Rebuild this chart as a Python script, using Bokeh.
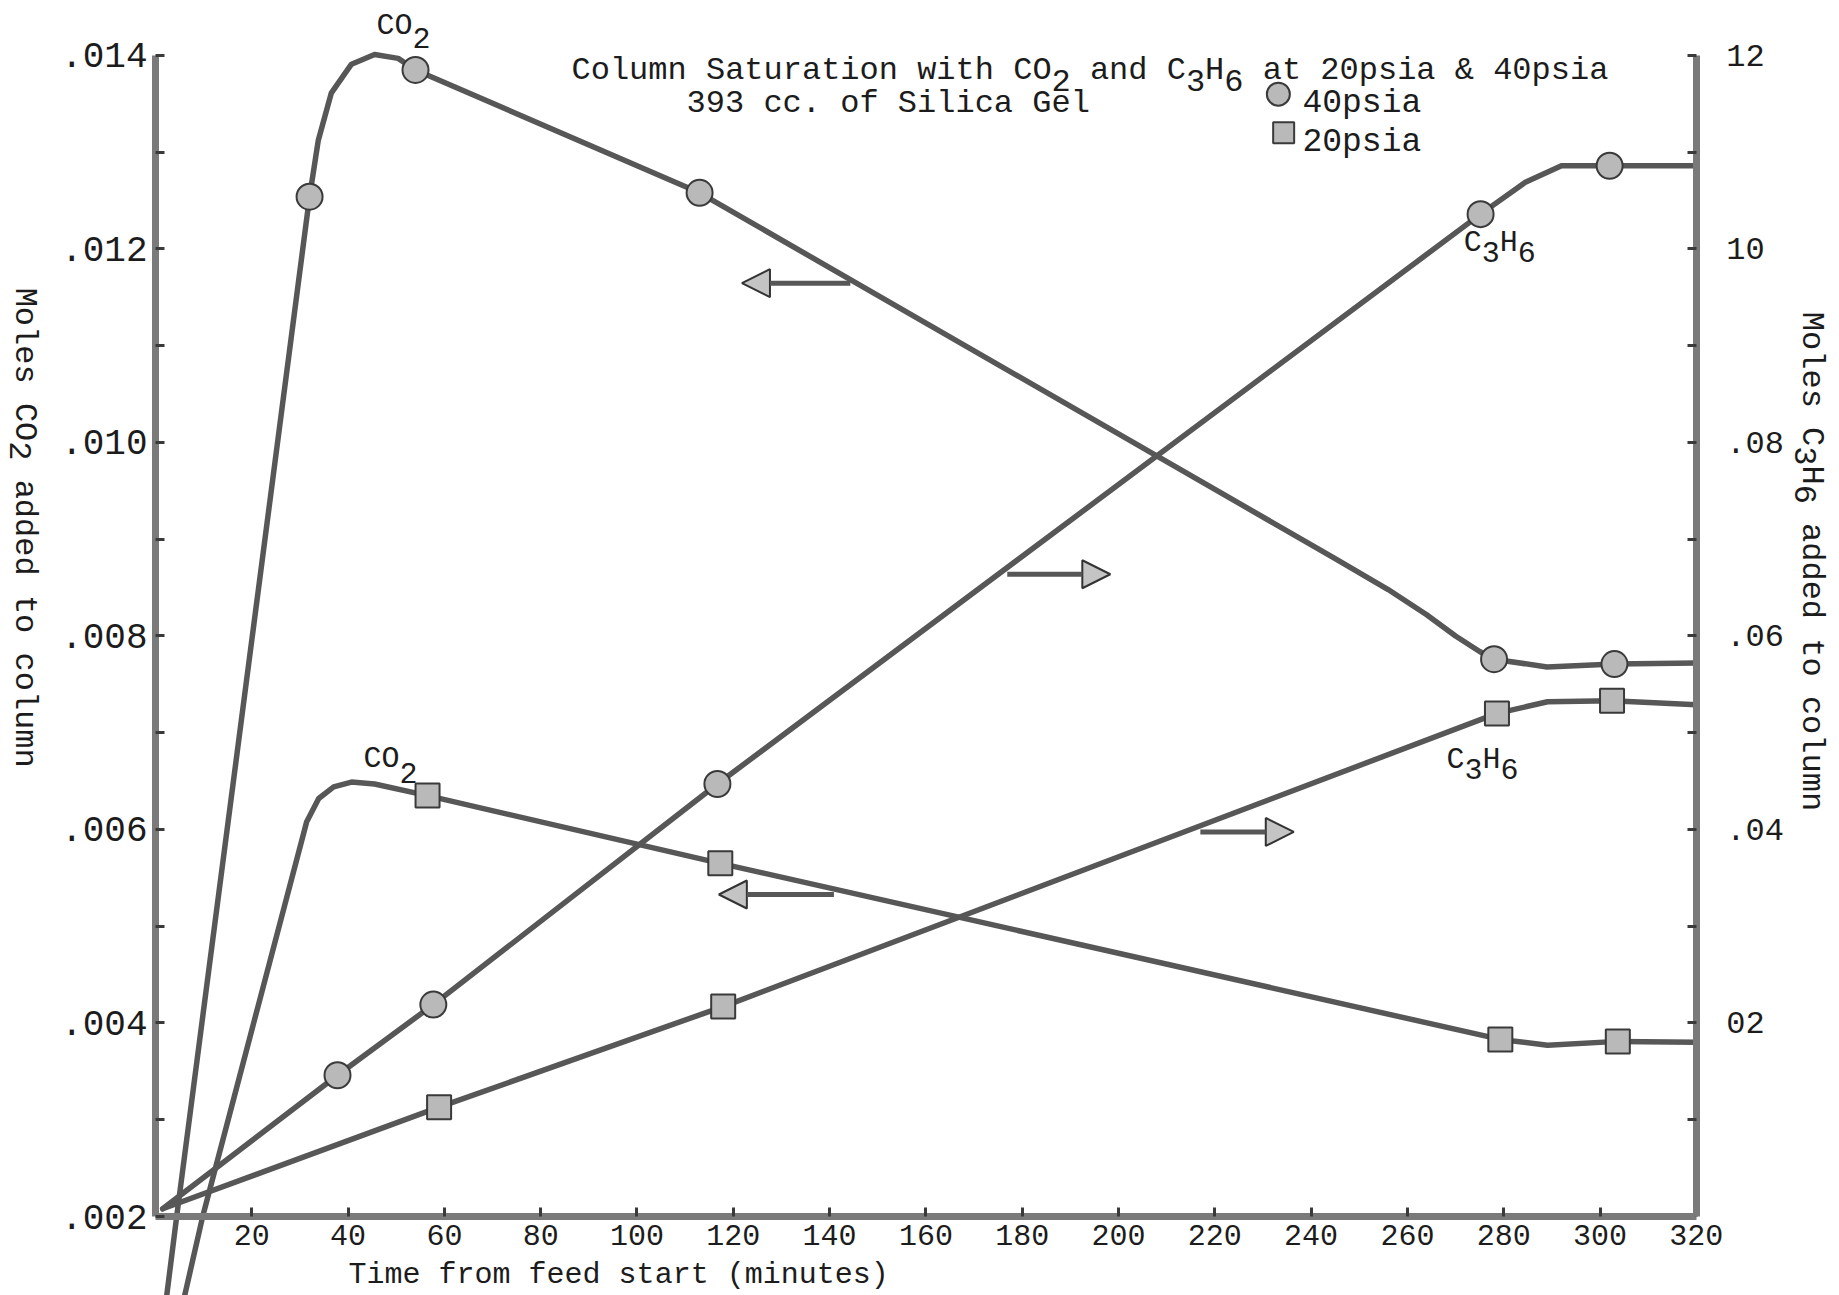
import math
from bokeh.plotting import figure
from bokeh.models import (LinearAxis, Range1d, FixedTicker, Label, Arrow,
                          NormalHead)
from bokeh.embed import file_html
from bokeh.resources import INLINE

# ---------------- data ----------------
# CO2, 40 psia (circles, left axis, moles)
co2_40_t = [32.0, 54.0, 113.0, 278.0, 303.0]
co2_40_v = [0.01254, 0.01385, 0.01258, 0.00776, 0.00771]
co2_40_curve_t = [2.3, 4.4, 32.0, 33.8, 36.5, 40.7, 45.5, 50.4, 54.0, 113.0,
                  245.0, 256.0, 264.0, 270.0, 275.0, 278.0, 289.0, 303.0, 320.0]
co2_40_curve_v = [0.00117, 0.00200, 0.01254, 0.01312, 0.01361, 0.01391, 0.01401,
                  0.01397, 0.01385, 0.01258, 0.00880, 0.00848, 0.00822, 0.00800,
                  0.00784, 0.00776, 0.00768, 0.00771, 0.00772]

# CO2, 20 psia (squares, left axis)
co2_20_t = [56.5, 117.3, 279.3, 303.7]
co2_20_v = [0.00635, 0.00565, 0.00383, 0.00381]
co2_20_curve_t = [6.0, 9.8, 31.4, 33.9, 37.0, 40.7, 45.5, 56.5, 117.3, 279.3,
                  289.1, 303.7, 320.0]
co2_20_curve_v = [0.00117, 0.00200, 0.00608, 0.00632, 0.00644, 0.00649, 0.00647,
                  0.00635, 0.00565, 0.00383, 0.00377, 0.00381, 0.00380]

# C3H6, 40 psia (circles, right axis, moles)
c3h6_40_t = [37.8, 57.7, 116.7, 275.2, 302.0]
c3h6_40_v = [0.0146, 0.0219, 0.0447, 0.1036, 0.1086]
c3h6_40_curve_t = [1.5, 37.8, 57.7, 116.7, 275.2, 284.5, 292.0, 302.0, 320.0]
c3h6_40_curve_v = [0.0008, 0.0146, 0.0219, 0.0447, 0.1036, 0.1069, 0.1086,
                   0.1086, 0.1086]

# C3H6, 20 psia (squares, right axis)
c3h6_20_t = [58.9, 117.9, 278.6, 302.5]
c3h6_20_v = [0.0113, 0.0217, 0.0520, 0.0533]
c3h6_20_curve_t = [1.5, 58.9, 117.9, 278.6, 289.1, 302.5, 320.0]
c3h6_20_curve_v = [0.0008, 0.0113, 0.0217, 0.0520, 0.0532, 0.0533, 0.0529]

# axis ticks and labels
x_ticks = [20, 40, 60, 80, 100, 120, 140, 160, 180, 200, 220, 240, 260, 280, 300, 320]
left_ticks = [0.002, 0.004, 0.006, 0.008, 0.010, 0.012, 0.014]
left_tick_labels = [".002", ".004", ".006", ".008", ".010", ".012", ".014"]
left_minor = [0.003, 0.005, 0.007, 0.009, 0.011, 0.013]
right_ticks = [0.02, 0.04, 0.06, 0.08, 0.10, 0.12]
right_tick_labels = ["02", ".04", ".06", ".08", "10", "12"]
right_minor = [0.01, 0.03, 0.05, 0.07, 0.09, 0.11]

# ---------------- styles ----------------
FONT = "Liberation Mono"
INK = "#1c1c1c"
CURVE = "#575757"
AXIS = "#7a7a7a"
MFILL = "#b9b9b9"
MLINE = "#3a3a3a"

W, H = 1839, 1295
p = figure(width=W, height=H, output_backend="svg", toolbar_location=None,
           x_range=Range1d(-32.19, 349.74), y_range=Range1d(0.0011835, 0.014568),
           x_axis_location=None, y_axis_location=None,
           min_border=0, min_border_left=0, min_border_right=0,
           min_border_top=0, min_border_bottom=0,
           outline_line_color=None, background_fill_color="white",
           border_fill_color="white")
p.extra_y_ranges = {"c3h6": Range1d(-0.008165, 0.12568)}
p.xgrid.visible = False
p.ygrid.visible = False


def style_axis(ax, size):
    ax.axis_line_color = AXIS
    ax.axis_line_width = 7
    ax.major_tick_line_color = "#3a3a3a"
    ax.minor_tick_line_color = "#3a3a3a"
    ax.major_tick_line_width = 3
    ax.minor_tick_line_width = 3
    ax.major_tick_in = 9
    ax.major_tick_out = 0
    ax.minor_tick_in = 9
    ax.minor_tick_out = 0
    ax.major_label_text_font = FONT
    ax.major_label_text_font_size = f"{size}px"
    ax.major_label_text_color = INK


# bottom axis at y = .002
xax = LinearAxis(fixed_location=0.002, bounds=(0, 320),
                 ticker=FixedTicker(ticks=x_ticks, minor_ticks=[]))
style_axis(xax, 30)
xax.major_label_standoff = 8
p.add_layout(xax, "below")

# left axis at t = 0
lax = LinearAxis(fixed_location=0, bounds=(0.002, 0.014),
                 ticker=FixedTicker(ticks=left_ticks, minor_ticks=left_minor))
style_axis(lax, 36)
lax.major_label_overrides = dict(zip(left_ticks, left_tick_labels))
lax.major_label_standoff = 8
p.add_layout(lax, "left")

# right axis at t = 320
rax = LinearAxis(fixed_location=320, y_range_name="c3h6", bounds=(0.0, 0.12),
                 ticker=FixedTicker(ticks=right_ticks, minor_ticks=right_minor))
style_axis(rax, 32)
rax.major_label_overrides = dict(zip(right_ticks, right_tick_labels))
rax.major_label_standoff = 30
p.add_layout(rax, "right")

# curves
for ct, cv, rng in [(co2_40_curve_t, co2_40_curve_v, "default"),
                    (co2_20_curve_t, co2_20_curve_v, "default"),
                    (c3h6_40_curve_t, c3h6_40_curve_v, "c3h6"),
                    (c3h6_20_curve_t, c3h6_20_curve_v, "c3h6")]:
    p.line(ct, cv, line_color=CURVE, line_width=5.5, line_join="round",
           line_cap="round", y_range_name=rng)

# markers
p.scatter(co2_40_t, co2_40_v, marker="circle", size=26, fill_color=MFILL,
          line_color=MLINE, line_width=2)
p.scatter(c3h6_40_t, c3h6_40_v, marker="circle", size=26, fill_color=MFILL,
          line_color=MLINE, line_width=2, y_range_name="c3h6")
p.scatter(co2_20_t, co2_20_v, marker="square", size=24, fill_color=MFILL,
          line_color=MLINE, line_width=2)
p.scatter(c3h6_20_t, c3h6_20_v, marker="square", size=24, fill_color=MFILL,
          line_color=MLINE, line_width=2, y_range_name="c3h6")

# legend markers (annotation positions)
legend_marker_t = [233.2, 234.3]
legend_marker_v = [0.01360, 0.01320]
p.scatter(legend_marker_t[:1], legend_marker_v[:1], marker="circle", size=23,
          fill_color=MFILL, line_color=MLINE, line_width=2)
p.scatter(legend_marker_t[1:], legend_marker_v[1:], marker="square", size=21,
          fill_color=MFILL, line_color=MLINE, line_width=2)


def typed(parts, x, y, size, drop, rotated=False):
    """Typewriter text with subscripts; parts = [(text, is_subscript), ...]."""
    cw = 0.6 * size
    pos = 0
    for txt, sub in parts:
        lead = len(txt) - len(txt.lstrip(" "))
        pos += lead
        s = txt.strip(" ")
        if s:
            along = pos * cw
            perp = -drop if sub else 0
            if rotated:
                xo, yo, ang = perp, -along, -math.pi / 2
            else:
                xo, yo, ang = along, perp, 0.0
            p.add_layout(Label(x=x, y=y, x_offset=xo, y_offset=yo, text=s,
                               angle=ang, text_font=FONT,
                               text_font_size=f"{size}px", text_color=INK,
                               text_align="left", text_baseline="alphabetic"))
        pos += len(txt) - lead


# title block and legend text
typed([("Column Saturation with CO", 0), ("2", 1), (" and C", 0), ("3", 1),
       ("H", 0), ("6", 1), (" at 20psia & 40psia", 0)], 86.4, 0.013845, 32, 10)
typed([("393 cc. of Silica Gel", 0)], 110.3, 0.013503, 32, 0)
typed([("40psia", 0)], 238.2, 0.013503, 33, 0)
typed([("20psia", 0)], 238.2, 0.013100, 33, 0)

# curve labels
typed([("CO", 0), ("2", 1)], 45.9, 0.014300, 30, 12)
typed([("CO", 0), ("2", 1)], 43.2, 0.006728, 30, 14)
typed([("C", 0), ("3", 1), ("H", 0), ("6", 1)], 271.7, 0.012066, 30, 9)
typed([("C", 0), ("3", 1), ("H", 0), ("6", 1)], 268.1, 0.006723, 30, 9)

# axis titles
typed([("Time from feed start (minutes)", 0)], 40.1, 0.00140, 30, 0)
typed([("Moles CO", 0), ("2", 1), (" added to column", 0)], -27.2, 0.01160,
      32, 4, rotated=True)
typed([("Moles C", 0), ("3", 1), ("H", 0), ("6", 1), (" added to column", 0)],
      344.0, 0.01135, 32, 6, rotated=True)

# hand-drawn arrows pointing to the axis each curve belongs to
arrow_start_t = [144.3, 176.9, 140.9, 217.0]
arrow_end_t = [121.8, 198.3, 117.0, 236.4]
arrow_v = [0.011646, 0.008638, 0.005328, 0.005975]
for xs, xe, yv in zip(arrow_start_t, arrow_end_t, arrow_v):
    p.add_layout(Arrow(x_start=xs, y_start=yv, x_end=xe, y_end=yv,
                       line_color=CURVE, line_width=5,
                       end=NormalHead(size=28, fill_color="#c4c4c4",
                                      line_color="#333333", line_width=2)))

open("out.html", "w").write(file_html(p, INLINE))
